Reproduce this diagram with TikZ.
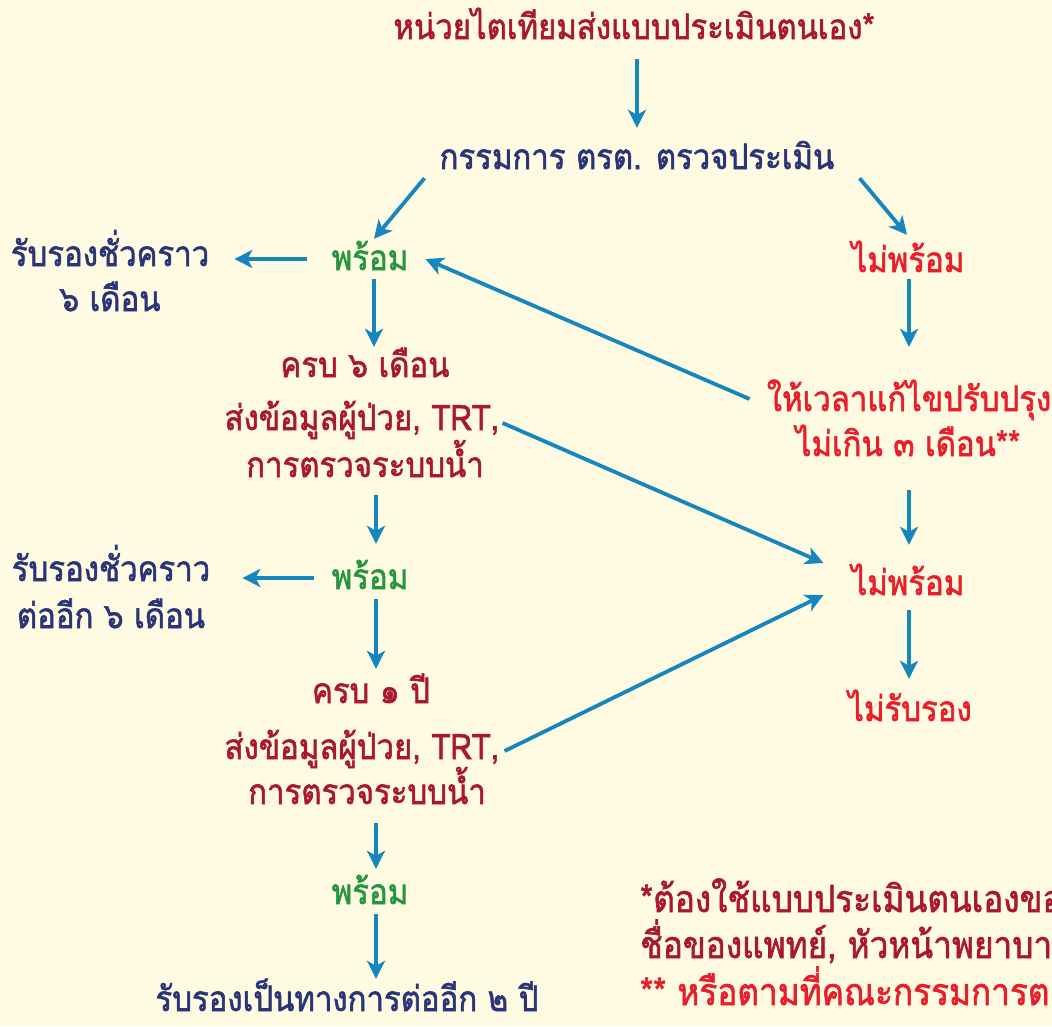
\documentclass[tikz,border=0pt]{standalone}
\usepackage{fontspec}
\usepackage{tikz}
\usetikzlibrary{arrows.meta}
\newfontfamily\thaifont[Script=Thai,FakeBold=1.6,FakeStretch=0.89]{Loma}

\begin{document}
\begin{tikzpicture}[x=1pt,y=-1pt]
	\definecolor{flbg}{RGB}{255,251,226}
	\definecolor{fldarkred}{RGB}{168,24,48}
	\definecolor{flnavy}{RGB}{42,52,120}
	\definecolor{flgreen}{RGB}{38,150,62}
	\definecolor{flred}{RGB}{232,30,42}
	\definecolor{flblue}{RGB}{22,134,190}
	\tikzset{
		flnode/.style={
			inner sep=0pt,
			text height=22pt,
			text depth=0pt,
			font=\thaifont\fontsize{35}{42}\selectfont
		},
		fldark/.style={flnode,text=fldarkred},
		flnavy/.style={flnode,text=flnavy},
		flok/.style={flnode,text=flgreen},
		flno/.style={flnode,text=flred},
		flnote/.style={anchor=west,font=\thaifont\fontsize{37.5}{42}\selectfont},
		fledge/.style={draw=flblue,line width=3.8pt,-{Stealth[length=18pt,width=18pt,inset=5pt]}}
	}
	\useasboundingbox (0,0) rectangle (1052,1026);
	\fill[flbg] (0,0) rectangle (1052,1026);

	% กล่องข้อความตามลำดับขั้นตอน
	\node[fldark] (title) at (634,28) {หน่วยไตเทียมส่งแบบประเมินตนเอง*};
	\node[flnavy] (committee) at (637,158) {กรรมการ ตรต. ตรวจประเมิน};
	\node[flok] (ready1) at (370,259) {พร้อม};
	\node[flno] (notready1) at (908,261) {ไม่พร้อม};
	\node[flnavy] (tempa) at (110,255) {รับรองชั่วคราว};
	\node[flnavy] (tempb) at (110,300) {๖ เดือน};
	\node[fldark] (krob6) at (365,366) {ครบ ๖ เดือน};
	\node[fldark] (send1) at (362,419) {ส่งข้อมูลผู้ป่วย, TRT,};
	\node[fldark] (water1) at (365,466) {การตรวจระบบน้ำ};
	\node[flno] (fix) at (909,400) {ให้เวลาแก้ไขปรับปรุง};
	\node[flno] (limit) at (908,445) {ไม่เกิน ๓ เดือน**};
	\node[flno] (notready2) at (908,584) {ไม่พร้อม};
	\node[flno] (reject) at (910,710) {ไม่รับรอง};
	\node[flnavy] (tempc) at (111,570) {รับรองชั่วคราว};
	\node[flnavy] (tempd) at (111,617) {ต่ออีก ๖ เดือน};
	\node[flok] (ready2) at (370,578) {พร้อม};
	\node[fldark] (krob1) at (371,692) {ครบ ๑ ปี};
	\node[fldark] (send2) at (362,748) {ส่งข้อมูลผู้ป่วย, TRT,};
	\node[fldark] (water2) at (367,793) {การตรวจระบบน้ำ};
	\node[flok] (ready3) at (370,893) {พร้อม};
	\node[flnavy] (final) at (347,1000) {รับรองเป็นทางการต่ออีก ๒ ปี};
	\node[fldark,flnote] (notea) at (640,901) {*ต้องใช้แบบประเมินตนเองขอ};
	\node[fldark,flnote] (noteb) at (640,947) {ชื่อของแพทย์, หัวหน้าพยาบา};
	\node[flno,flnote] (notec) at (640,994) {** หรือตามที่คณะกรรมการต};

	% ลูกศร
	\draw[fledge,shorten <=20pt,shorten >=19pt] (committee.north |- title.south) -- (committee.north);
	\draw[fledge] ([xshift=-15pt,yshift=-9pt]committee.south west) -- ([xshift=4pt,yshift=9pt]ready1.north);
	\draw[fledge] ([xshift=25pt,yshift=-9pt]committee.south east) -- ([xshift=-1pt,yshift=15pt]notready1.north);
	\draw[fledge,shorten <=25pt,shorten >=25pt] (ready1.west) -- (ready1.west -| tempa.east);
	\draw[fledge,shorten <=9pt,shorten >=8pt] ([xshift=4pt]ready1.south) -- ([xshift=4pt]ready1.south |- krob6.north);
	\draw[fledge,shorten <=7pt,shorten >=42pt] ([xshift=1pt]notready1.south) -- ([xshift=1pt]notready1.south |- fix.north);
	\draw[fledge] ([xshift=-17pt,yshift=1pt]fix.west) -- ([xshift=17pt]ready1.east);
	\draw[fledge] ([xshift=3pt,yshift=-4pt]send1.east) -- ([xshift=-28pt,yshift=21pt]notready2.west);
	\draw[fledge,shorten <=34pt,shorten >=28pt] ([xshift=1pt]limit.south) -- ([xshift=1pt]limit.south |- notready2.north);
	\draw[fledge,shorten <=18pt,shorten >=23pt] ([xshift=11pt]water1.south) -- ([xshift=11pt]water1.south |- ready2.north);
	\draw[fledge,shorten <=18pt,shorten >=32pt] (ready2.west) -- (ready2.west -| tempc.east);
	\draw[fledge,shorten <=10pt,shorten >=12pt] ([xshift=6pt]ready2.south) -- ([xshift=6pt]ready2.south |- krob1.north);
	\draw[fledge] ([xshift=5pt,yshift=-3pt]send2.east) -- ([xshift=-28pt,yshift=-11pt]notready2.west);
	\draw[fledge,shorten <=15pt,shorten >=20pt] ([xshift=1pt]notready2.south) -- ([xshift=1pt]notready2.south |- reject.north);
	\draw[fledge,shorten <=19pt,shorten >=13pt] ([xshift=9pt]water2.south) -- ([xshift=9pt]water2.south |- ready3.north);
	\draw[fledge,shorten <=10pt,shorten >=10pt] ([xshift=6pt]ready3.south) -- ([xshift=6pt]ready3.south |- final.north);
\end{tikzpicture}
\end{document}
